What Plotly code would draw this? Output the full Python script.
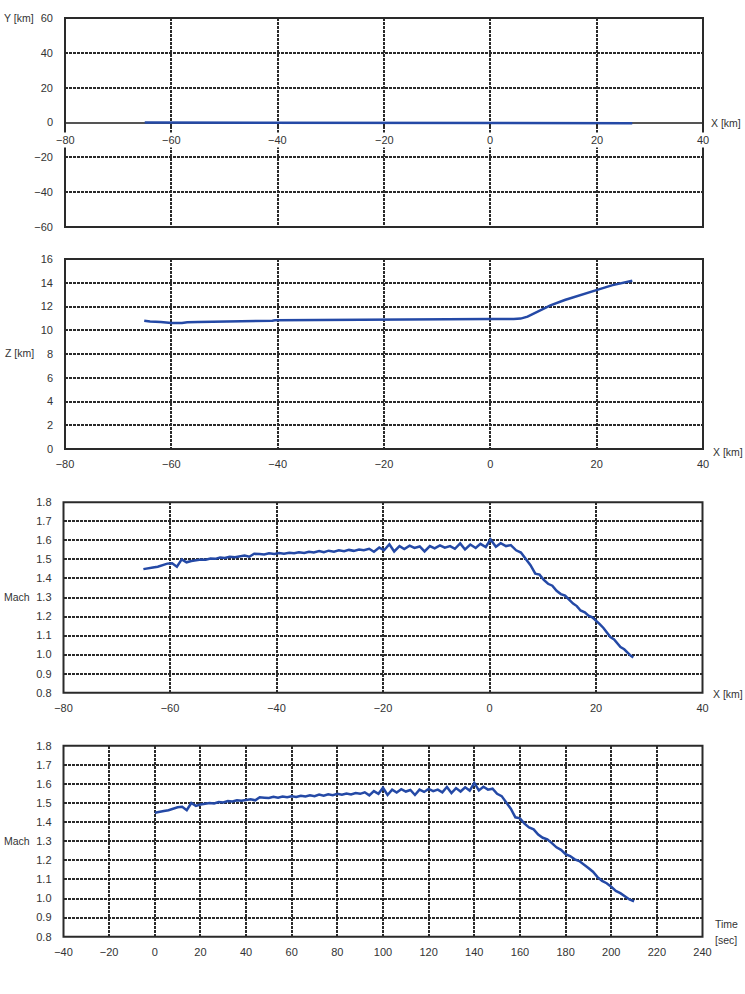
import plotly.graph_objects as go

# ---------------- data ----------------
time_s = [0, 2, 4, 6, 8, 10, 12, 14, 16, 18, 20, 22, 24, 26, 28, 30, 32, 34, 36, 38,
          40, 42, 44, 46, 48, 50, 52, 54, 56, 58, 60, 62, 64, 66, 68, 70, 72, 74, 76, 78,
          80, 82, 84, 86, 88, 90, 92, 94, 96, 98, 100, 102, 104, 106, 108, 110, 112, 114, 116, 118,
          120, 122, 124, 126, 128, 130, 132, 134, 136, 138, 140, 142, 144, 146, 148, 150, 152, 154, 156, 158,
          160, 162, 164, 166, 168, 170, 172, 174, 176, 178, 180, 182, 184, 186, 188, 190, 192, 194, 196, 198,
          200, 202, 204, 206, 208, 210]

x_km = [-65.0, -64.1, -63.2, -62.3, -61.4, -60.5, -59.6, -58.7, -57.8, -56.9,
        -56.0, -55.1, -54.2, -53.3, -52.4, -51.5, -50.6, -49.7, -48.8, -47.8,
        -46.9, -46.0, -45.1, -44.2, -43.2, -42.3, -41.4, -40.4, -39.5, -38.6,
        -37.6, -36.7, -35.8, -34.8, -33.9, -33.0, -32.0, -31.1, -30.2, -29.2,
        -28.3, -27.3, -26.4, -25.5, -24.5, -23.6, -22.6, -21.7, -20.7, -19.8,
        -18.8, -17.9, -16.9, -16.0, -15.0, -14.1, -13.1, -12.2, -11.2, -10.3,
        -9.3, -8.4, -7.4, -6.5, -5.5, -4.6, -3.6, -2.6, -1.7, -0.7,
        0.2, 1.2, 2.1, 3.1, 4.0, 5.0, 5.9, 6.8, 7.7, 8.6,
        9.4, 10.2, 11.0, 11.8, 12.6, 13.4, 14.2, 14.9, 15.7, 16.4,
        17.1, 17.9, 18.6, 19.3, 20.0, 20.7, 21.4, 22.1, 22.7, 23.4,
        24.0, 24.6, 25.3, 25.9, 26.5, 27.0]

mach = [1.449, 1.452, 1.458, 1.462, 1.470, 1.478, 1.480, 1.462, 1.500, 1.485,
        1.492, 1.496, 1.500, 1.498, 1.505, 1.503, 1.510, 1.508, 1.514, 1.512,
        1.516, 1.520, 1.514, 1.530, 1.528, 1.526, 1.532, 1.528, 1.534, 1.530,
        1.535, 1.532, 1.538, 1.534, 1.540, 1.536, 1.544, 1.538, 1.546, 1.541,
        1.548, 1.543, 1.550, 1.545, 1.552, 1.548, 1.556, 1.540, 1.562, 1.548,
        1.580, 1.542, 1.570, 1.555, 1.572, 1.560, 1.568, 1.542, 1.570, 1.558,
        1.574, 1.562, 1.570, 1.556, 1.584, 1.552, 1.578, 1.560, 1.582, 1.565,
        1.605, 1.566, 1.585, 1.570, 1.575, 1.548, 1.536, 1.500, 1.470, 1.425,
        1.420, 1.392, 1.372, 1.362, 1.335, 1.318, 1.310, 1.290, 1.268, 1.255,
        1.232, 1.222, 1.205, 1.196, 1.180, 1.160, 1.140, 1.112, 1.092, 1.080,
        1.062, 1.040, 1.028, 1.010, 0.995, 0.985]

# horizontal track (Y vs X)
y_track_x = [-65.0, -30.0, 0.0, 15.5, 15.8, 26.7]
y_track_y = [0.0, 0.0, 0.0, 0.0, -0.4, -0.4]

# altitude (Z vs X)
z_track_x = [-65.1, -64.0, -62.0, -60.0, -58.0, -57.0, -55.0, -50.0, -45.0, -41.0,
             -40.5, -35.0, -27.0, -20.0, -10.0, 0.0, 4.4, 5.7, 7.0, 8.2,
             9.5, 11.3, 14.0, 17.0, 20.1, 23.0, 26.7]
z_track_z = [10.80, 10.74, 10.70, 10.62, 10.62, 10.67, 10.70, 10.72, 10.76, 10.80,
             10.84, 10.86, 10.90, 10.92, 10.94, 10.94, 10.95, 10.98, 11.15, 11.40,
             11.70, 12.10, 12.55, 13.00, 13.40, 13.80, 14.17]

# tick labels of the top panel's X axis (drawn on the Y=0 line)
top_x_ticks = [-80, -60, -40, -20, 0, 20, 40]
top_x_labels = ["−80", "−60", "−40", "−20", "0", "20", "40"]

# ---------------- style ----------------
W, H = 745, 994
LINE = "#2449A6"
GRID = "#2a2a2a"
TXT = "#333333"
FONT = "Liberation Sans, Arial, sans-serif"


def px(x):
    return x / W


def py(y):
    return 1 - y / H


panels = [
    # (left, right, top, bottom) in pixels
    (65, 703, 18, 227),
    (65, 703, 259, 449),
    (63.5, 702.5, 502.3, 692.7),
    (63.5, 702.5, 745.7, 936.7),
]

fig = go.Figure()

fig.add_trace(go.Scatter(x=y_track_x, y=y_track_y, mode="lines",
                         line=dict(color=LINE, width=2.5), xaxis="x", yaxis="y", showlegend=False))
fig.add_trace(go.Scatter(x=z_track_x, y=z_track_z, mode="lines",
                         line=dict(color=LINE, width=2.5), xaxis="x2", yaxis="y2", showlegend=False))
fig.add_trace(go.Scatter(x=x_km, y=mach, mode="lines",
                         line=dict(color=LINE, width=2.5), xaxis="x3", yaxis="y3", showlegend=False))
fig.add_trace(go.Scatter(x=time_s, y=mach, mode="lines",
                         line=dict(color=LINE, width=2.5), xaxis="x4", yaxis="y4", showlegend=False))

axis_common = dict(showgrid=True, gridcolor=GRID, gridwidth=1.6, griddash="3px,1px",
                   zeroline=False, showline=False, automargin=False,
                   tickfont=dict(family=FONT, size=11, color=TXT), fixedrange=True)

layout = dict(width=W, height=H, margin=dict(l=0, r=0, t=0, b=0, pad=0, autoexpand=False),
              paper_bgcolor="white", plot_bgcolor="white", showlegend=False,
              font=dict(family=FONT, size=11, color=TXT))

xranges = [(-80, 40, 20), (-80, 40, 20), (-80, 40, 20), (-40, 240, 20)]
yranges = [(-60, 60, 20), (0, 16, 2), (0.8, 1.8, 0.1), (0.8, 1.8, 0.1)]

shapes = []
for i, (l, r, t, b) in enumerate(panels):
    n = "" if i == 0 else str(i + 1)
    ydom = [py(b), py(t)]
    xa = dict(axis_common, domain=[px(l), px(r)], range=list(xranges[i][:2]),
              dtick=xranges[i][2], tick0=xranges[i][0], anchor="y" + n,
              ticks="", ticklabelstandoff=7)
    ya = dict(axis_common, domain=ydom, range=list(yranges[i][:2]),
              dtick=yranges[i][2], tick0=yranges[i][0], anchor="x" + n,
              ticks="", ticklabelstandoff=11)
    if i >= 2:
        ya["tickformat"] = ".1f"
    if i == 0:
        xa.update(anchor="free", position=(ydom[0] + ydom[1]) / 2,
                  ticks="outside", ticklen=5, tickwidth=1.5, tickcolor=GRID,
                  showticklabels=False)
        ya.update(zeroline=True, zerolinecolor="#555555", zerolinewidth=2.2)
    layout["xaxis" + n] = xa
    layout["yaxis" + n] = ya
    shapes.append(dict(type="rect", xref="x" + n + " domain", yref="y" + n + " domain",
                       x0=0, x1=1, y0=0, y1=1, layer="above",
                       line=dict(color="#2a2a2a", width=2)))

fig.update_layout(**layout)
fig.update_layout(shapes=shapes)

# top-panel X tick labels sit on the Y=0 line with a white backing (gap in the grid)
for v, lab in zip(top_x_ticks, top_x_labels):
    fig.add_annotation(text=lab, x=v, y=0, xref="x", yref="y", yshift=-17,
                       xanchor="center", yanchor="middle", showarrow=False,
                       bgcolor="white", borderpad=1,
                       font=dict(family=FONT, size=11, color=TXT))

labels = [
    ("Y [km]", 2, 18),
    ("X [km]", 709, 123),
    ("Z [km]", 3, 353),
    ("X [km]", 711, 452),
    ("Mach", 2, 597),
    ("X [km]", 711, 694),
    ("Mach", 2, 841),
    ("Time", 713, 924),
    ("[sec]", 713, 940),
]
for text, x, y in labels:
    fig.add_annotation(text=text, x=px(x), y=py(y), xref="paper", yref="paper",
                       xanchor="left", yanchor="middle", showarrow=False,
                       font=dict(family=FONT, size=10.5, color=TXT))

fig.write_html("out.html",
               post_script="document.body.style.margin='0';document.body.style.padding='0';")
